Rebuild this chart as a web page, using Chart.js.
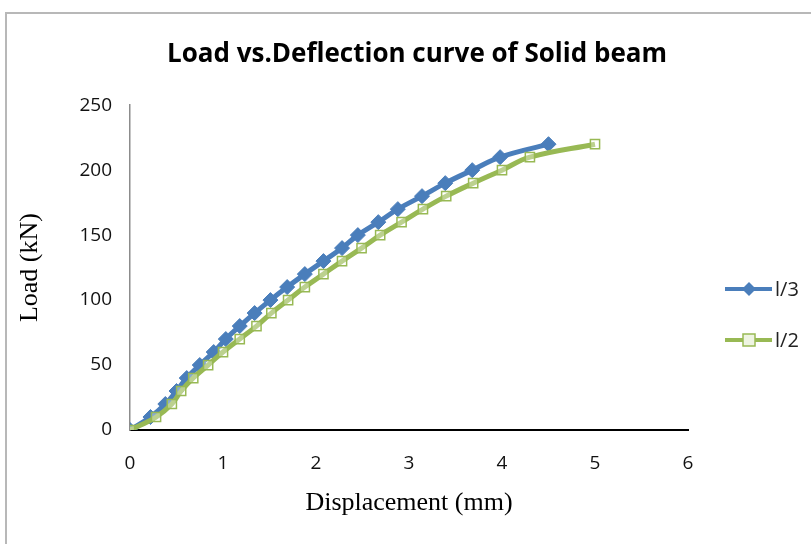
<!DOCTYPE html>
<html>
<head>
<meta charset="utf-8">
<script src="https://cdn.jsdelivr.net/npm/chart.js@4.4.0/dist/chart.umd.min.js"></script>
<style>
  html, body { margin: 0; padding: 0; background: #fff; }
  #frame { position: absolute; left: 5px; top: 12px; width: 900px; height: 600px; border: 2px solid #b8b8b8; }
  #wrap { position: absolute; left: 0; top: 0; width: 811px; height: 544px; }
</style>
</head>
<body>
<div id="frame"></div>
<div id="wrap"><canvas id="myChart" width="811" height="544"></canvas></div>
<script>
// Load steps (kN), same for both series
const loads = [0, 10, 20, 30, 40, 50, 60, 70, 80, 90, 100, 110, 120, 130, 140, 150, 160, 170, 180, 190, 200, 210, 220];

// Displacement (mm)
const dispL3 = [0, 0.22, 0.38, 0.5, 0.61, 0.75, 0.9, 1.03, 1.18, 1.34, 1.51, 1.69, 1.88, 2.08, 2.28, 2.45, 2.67, 2.88, 3.14, 3.39, 3.68, 3.98, 4.5];
const dispL2 = [0, 0.28, 0.45, 0.55, 0.68, 0.84, 1.0, 1.18, 1.36, 1.52, 1.7, 1.88, 2.08, 2.28, 2.49, 2.69, 2.92, 3.15, 3.4, 3.69, 4.0, 4.3, 5.0];

const seriesNames = ['l/3', 'l/2'];
const xTicks = [0, 1, 2, 3, 4, 5, 6];
const yTicks = [0, 50, 100, 150, 200, 250];

const blue = '#4a7ebb';
const green = '#98b954';

function toPoints(xs, ys) {
    let pts = [];
    for (let i = 0; i < xs.length; i++) {
        pts.push({x: xs[i], y: ys[i]});
    }
    return pts;
}

// legend drawn by hand so it shows line + marker like the original
const sideLegend = {
    id: 'sideLegend',
    afterDraw(chart) {
        const ctx = chart.ctx;
        const items = [
            {text: seriesNames[0], color: blue, y: 289, style: 'diamond'},
            {text: seriesNames[1], color: green, y: 340, style: 'square'}
        ];
        ctx.save();
        for (let it of items) {
            ctx.strokeStyle = it.color;
            ctx.lineWidth = 4;
            ctx.beginPath();
            ctx.moveTo(725, it.y);
            ctx.lineTo(772, it.y);
            ctx.stroke();
            if (it.style == 'diamond') {
                ctx.fillStyle = it.color;
                ctx.beginPath();
                ctx.moveTo(749, it.y - 7);
                ctx.lineTo(756, it.y);
                ctx.lineTo(749, it.y + 7);
                ctx.lineTo(742, it.y);
                ctx.closePath();
                ctx.fill();
            } else {
                ctx.fillStyle = '#eef4e2';
                ctx.lineWidth = 1.5;
                ctx.fillRect(743, it.y - 6, 12, 12);
                ctx.strokeRect(743, it.y - 6, 12, 12);
            }
            ctx.fillStyle = '#222';
            ctx.font = '20px "Open Sans"';
            ctx.textBaseline = 'middle';
            ctx.fillText(it.text, 775, it.y + 1);
        }
        ctx.restore();
    }
};

const data = {
    datasets: [
        {
            label: seriesNames[0],
            data: toPoints(dispL3, loads),
            borderColor: blue,
            backgroundColor: blue,
            borderWidth: 5,
            pointStyle: 'rectRot',
            pointRadius: 7.5,
            pointBorderWidth: 1,
            tension: 0.4,
            order: 1,
        },
        {
            label: seriesNames[1],
            data: toPoints(dispL2, loads),
            borderColor: green,
            backgroundColor: 'rgba(255,255,255,0.35)',
            borderWidth: 5,
            pointStyle: 'rect',
            pointRadius: 6.5,
            pointBorderWidth: 1.5,
            tension: 0.4,
            order: 0,
        },
    ]
};

const config = {
    type: 'scatter',
    data: data,
    options: {
        responsive: false,
        animation: false,
        showLine: true,
        layout: { padding: { left: 23, right: 0, top: 0, bottom: 0 } },
        plugins: {
            legend: { display: false },
            tooltip: { enabled: false },
            title: {
                display: true,
                text: 'Load vs.Deflection curve of Solid beam',
                color: '#000',
                font: { family: '"Open Sans"', size: 26, weight: 'bold', lineHeight: 1.2 },
                padding: { top: 39, bottom: 35 },
            },
        },
        scales: {
            x: {
                type: 'linear',
                min: 0, max: 6,
                afterBuildTicks: s => { s.ticks = xTicks.map(v => ({value: v})); },
                afterFit: s => { s.height = 114; },
                grid: { display: false, drawTicks: false },
                border: { display: true, color: '#000', width: 2 },
                ticks: { color: '#111', padding: 22, font: { family: '"Open Sans"', size: 19 } },
                title: {
                    display: true,
                    text: 'Displacement (mm)',
                    color: '#000',
                    font: { family: '"Liberation Serif"', size: 26, lineHeight: 1.2 },
                    padding: { top: 0, bottom: 25 },
                },
            },
            y: {
                type: 'linear',
                min: 0, max: 250,
                afterBuildTicks: s => { s.ticks = yTicks.map(v => ({value: v})); },
                afterFit: s => { s.width = 107; },
                grid: { display: false, drawTicks: false },
                border: { display: true, color: '#8c8c8c', width: 1.5 },
                ticks: { color: '#111', padding: 18, font: { family: '"Open Sans"', size: 19 } },
                title: {
                    display: true,
                    text: 'Load (kN)',
                    color: '#000',
                    font: { family: '"Liberation Serif"', size: 26, lineHeight: 1 },
                    padding: { top: -6, bottom: 0 },
                },
            },
            // empty right axis only to keep room for the legend
            y2: {
                position: 'right',
                display: true,
                afterFit: s => { s.width = 123; },
                grid: { display: false, drawTicks: false },
                border: { display: false },
                ticks: { display: false },
            },
        },
    },
    plugins: [sideLegend],
};

const myChart = new Chart(
    document.getElementById('myChart'),
    config
);
</script>
</body>
</html>
